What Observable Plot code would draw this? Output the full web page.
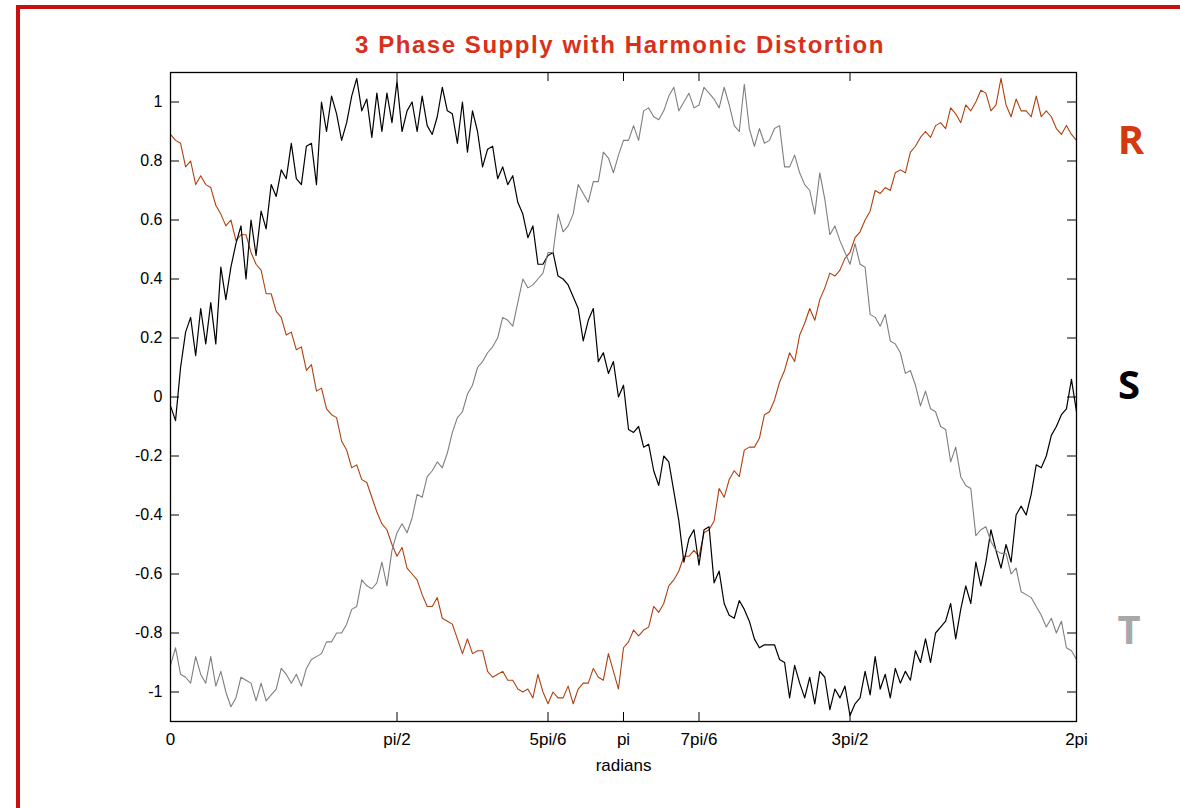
<!DOCTYPE html>
<html>
<head>
<meta charset="utf-8">
<script src="https://cdn.jsdelivr.net/npm/d3@7"></script>
<script src="https://cdn.jsdelivr.net/npm/@observablehq/plot@0.6"></script>
<style>
  html, body { margin: 0; padding: 0; background: #fff; }
  body { width: 1180px; height: 808px; overflow: hidden; position: relative; font-family: "Liberation Sans", Arial, sans-serif; }
  #border { position: absolute; left: 16px; top: 5px; width: 1200px; height: 840px; border-top: 4px solid #c8100f; border-left: 4px solid #c8100f; box-sizing: border-box; }
  #title { position: absolute; top: 30px; left: 0; width: 1240px; text-align: center; color: #d9301c; font-weight: bold; font-size: 24px; line-height: 30px; letter-spacing: 1.55px; }
  #chart { position: absolute; left: 0; top: 0; }
  .phase { position: absolute; font-family: "Open Sans", "DejaVu Sans", sans-serif; font-weight: bold; font-size: 40px; line-height: 1; transform: translate(-50%, -50%); }
</style>
</head>
<body>
<div id="border"></div>
<div id="chart"></div>
<div id="title">3 Phase Supply with Harmonic Distortion</div>
<div class="phase" style="left:1131px; top:139px; color:#d33a10;">R</div>
<div class="phase" style="left:1129px; top:384px; color:#000000;">S</div>
<div class="phase" style="left:1129px; top:629px; color:#a8a8a8;">T</div>
<script>
// sample angles (radians), 2-degree spacing over one period
const angle = d3.range(181).map(i => i * Math.PI / 90);

// Phase R
const phaseR = [
  0.89, 0.87, 0.86, 0.78, 0.80, 0.72, 0.75, 0.72, 0.71, 0.65,
  0.62, 0.58, 0.60, 0.53, 0.55, 0.55, 0.49, 0.45, 0.43, 0.35,
  0.35, 0.29, 0.27, 0.21, 0.22, 0.16, 0.17, 0.09, 0.11, 0.02,
  0.03, -0.04, -0.06, -0.07, -0.15, -0.18, -0.24, -0.23, -0.28, -0.29,
  -0.34, -0.39, -0.43, -0.45, -0.50, -0.54, -0.51, -0.58, -0.60, -0.62,
  -0.67, -0.71, -0.71, -0.68, -0.75, -0.76, -0.77, -0.82, -0.87, -0.82,
  -0.87, -0.86, -0.86, -0.93, -0.95, -0.94, -0.93, -0.96, -0.96, -0.99,
  -1.00, -0.99, -1.02, -0.94, -1.00, -1.04, -1.00, -1.02, -1.02, -0.98,
  -1.04, -0.99, -0.97, -0.97, -0.92, -0.95, -0.96, -0.87, -0.93, -0.99,
  -0.85, -0.83, -0.79, -0.81, -0.79, -0.78, -0.71, -0.73, -0.70, -0.64,
  -0.62, -0.59, -0.54, -0.54, -0.52, -0.54, -0.46, -0.45, -0.42, -0.31,
  -0.34, -0.28, -0.25, -0.27, -0.18, -0.17, -0.17, -0.14, -0.06, -0.05,
  -0.01, 0.05, 0.09, 0.15, 0.12, 0.21, 0.25, 0.30, 0.26, 0.33,
  0.37, 0.42, 0.41, 0.43, 0.47, 0.49, 0.54, 0.56, 0.60, 0.63,
  0.70, 0.69, 0.71, 0.70, 0.76, 0.77, 0.76, 0.83, 0.85, 0.88,
  0.90, 0.88, 0.92, 0.93, 0.91, 0.98, 0.96, 0.93, 0.99, 0.97,
  1.00, 1.04, 1.03, 0.97, 0.99, 1.08, 0.99, 0.95, 1.01, 0.97,
  0.97, 0.95, 1.02, 0.95, 0.97, 0.95, 0.91, 0.89, 0.92, 0.89,
  0.87
];

// Phase S
const phaseS = [
  -0.03, -0.08, 0.10, 0.22, 0.27, 0.14, 0.30, 0.18, 0.32, 0.18,
  0.44, 0.33, 0.44, 0.52, 0.58, 0.40, 0.60, 0.48, 0.63, 0.57,
  0.72, 0.68, 0.77, 0.74, 0.86, 0.74, 0.72, 0.85, 0.86, 0.72,
  1.00, 0.90, 1.02, 0.96, 0.87, 0.93, 1.02, 1.08, 0.97, 1.01,
  0.88, 1.03, 0.90, 1.03, 0.93, 1.07, 0.90, 0.97, 1.00, 0.90,
  1.02, 0.92, 0.89, 0.95, 1.05, 0.97, 0.96, 0.86, 1.00, 0.83,
  0.97, 0.90, 0.78, 0.84, 0.85, 0.74, 0.78, 0.72, 0.75, 0.66,
  0.62, 0.54, 0.58, 0.45, 0.45, 0.48, 0.49, 0.41, 0.40, 0.38,
  0.34, 0.30, 0.19, 0.26, 0.30, 0.12, 0.15, 0.08, 0.12, 0.00,
  0.04, -0.11, -0.12, -0.10, -0.17, -0.16, -0.25, -0.30, -0.20, -0.22,
  -0.32, -0.42, -0.56, -0.48, -0.45, -0.57, -0.45, -0.44, -0.63, -0.59,
  -0.70, -0.74, -0.75, -0.69, -0.72, -0.76, -0.82, -0.85, -0.84, -0.84,
  -0.84, -0.89, -0.90, -1.02, -0.91, -0.97, -1.02, -0.95, -1.04, -0.93,
  -0.95, -1.06, -0.99, -1.02, -0.98, -1.08, -1.04, -1.02, -0.93, -1.01,
  -0.88, -0.99, -0.94, -1.02, -0.92, -0.97, -0.93, -0.96, -0.86, -0.90,
  -0.82, -0.90, -0.80, -0.78, -0.76, -0.70, -0.82, -0.72, -0.64, -0.70,
  -0.56, -0.64, -0.56, -0.45, -0.52, -0.58, -0.50, -0.56, -0.40, -0.37,
  -0.40, -0.33, -0.23, -0.24, -0.20, -0.13, -0.10, -0.06, -0.04, 0.06,
  -0.05
];

// Phase T
const phaseT = [
  -0.91, -0.85, -0.94, -0.95, -0.97, -0.88, -0.94, -0.97, -0.88, -0.98,
  -0.93, -1.00, -1.05, -1.02, -0.95, -0.96, -0.97, -1.03, -0.97, -1.03,
  -1.01, -0.99, -0.92, -0.94, -0.97, -0.94, -0.98, -0.92, -0.89, -0.88,
  -0.87, -0.83, -0.83, -0.80, -0.80, -0.77, -0.72, -0.71, -0.62, -0.64,
  -0.65, -0.63, -0.56, -0.64, -0.52, -0.46, -0.43, -0.46, -0.41, -0.33,
  -0.34, -0.27, -0.25, -0.22, -0.24, -0.19, -0.12, -0.07, -0.05, 0.01,
  0.04, 0.10, 0.12, 0.15, 0.17, 0.20, 0.27, 0.26, 0.24, 0.32,
  0.40, 0.37, 0.38, 0.40, 0.42, 0.49, 0.49, 0.62, 0.56, 0.58,
  0.62, 0.72, 0.69, 0.66, 0.73, 0.73, 0.83, 0.81, 0.76, 0.82,
  0.87, 0.87, 0.92, 0.87, 0.97, 0.98, 0.95, 0.94, 0.97, 1.02,
  1.05, 0.97, 1.00, 1.03, 0.98, 0.99, 1.05, 1.03, 1.01, 0.98,
  1.05, 0.99, 0.92, 0.90, 1.06, 0.91, 0.85, 0.91, 0.86, 0.87,
  0.91, 0.92, 0.78, 0.78, 0.82, 0.76, 0.72, 0.70, 0.62, 0.76,
  0.67, 0.55, 0.58, 0.53, 0.49, 0.45, 0.52, 0.45, 0.44, 0.28,
  0.27, 0.24, 0.28, 0.19, 0.18, 0.15, 0.08, 0.09, 0.04, -0.03,
  0.02, -0.04, -0.05, -0.10, -0.11, -0.22, -0.17, -0.27, -0.30, -0.31,
  -0.47, -0.45, -0.44, -0.49, -0.52, -0.53, -0.53, -0.60, -0.58, -0.66,
  -0.67, -0.68, -0.71, -0.74, -0.78, -0.75, -0.80, -0.76, -0.85, -0.86,
  -0.89
];

const yTicks = [1, 0.8, 0.6, 0.4, 0.2, 0, -0.2, -0.4, -0.6, -0.8, -1];
const xTicks = [0, Math.PI / 2, 5 * Math.PI / 6, Math.PI, 7 * Math.PI / 6, 3 * Math.PI / 2, 2 * Math.PI];
const xTickLabels = ["0", "pi/2", "5pi/6", "pi", "7pi/6", "3pi/2", "2pi"];

const seriesColors = { R: "#b0400f", S: "#000000", T: "#7f7f7f" };

const rows = (name, vals) => vals.map((v, i) => ({ phase: name, x: angle[i], y: v }));
const dataR = rows("R", phaseR);
const dataS = rows("S", phaseS);
const dataT = rows("T", phaseT);

const W = 1180, H = 808, mL = 170, mR = 104, mT = 72, mB = 87;
const frameW = W - mL - mR, frameH = H - mT - mB;
const tickLen = 9;

const chart = Plot.plot({
  width: W,
  height: H,
  marginLeft: mL,
  marginRight: mR,
  marginTop: mT,
  marginBottom: mB,
  style: { fontFamily: "'Liberation Sans', Arial, sans-serif", fontSize: "16px", color: "#000", background: "transparent", overflow: "visible" },
  x: { domain: [0, 2 * Math.PI] },
  y: { domain: [-1.1, 1.1] },
  marks: [
    Plot.line(dataR, { x: "x", y: "y", stroke: seriesColors.R, strokeWidth: 1.1 }),
    Plot.line(dataS, { x: "x", y: "y", stroke: seriesColors.S, strokeWidth: 1.2 }),
    Plot.line(dataT, { x: "x", y: "y", stroke: seriesColors.T, strokeWidth: 1.1 }),
    // inward ticks, MATLAB style
    Plot.tickY(yTicks, { y: d => d, stroke: "#000", strokeWidth: 1, insetRight: frameW - tickLen }),
    Plot.tickY(yTicks, { y: d => d, stroke: "#000", strokeWidth: 1, insetLeft: frameW - tickLen }),
    Plot.tickX(xTicks, { x: d => d, stroke: "#000", strokeWidth: 1, insetTop: frameH - tickLen }),
    Plot.tickX(xTicks, { x: d => d, stroke: "#000", strokeWidth: 1, insetBottom: frameH - tickLen }),
    Plot.frame({ stroke: "#000", strokeWidth: 1.3 }),
    Plot.axisY(yTicks, { anchor: "left", tickSize: 0, tickPadding: 8, tickFormat: d => String(d), label: null, fontSize: 16 }),
    Plot.axisX(xTicks, { anchor: "bottom", tickSize: 0, tickPadding: 11, tickFormat: (d, i) => xTickLabels[i], label: null, fontSize: 17 }),
    Plot.text(["radians"], { frameAnchor: "bottom", dy: 49, text: d => d, fontSize: 17 })
  ]
});
document.getElementById("chart").appendChild(chart);
</script>
</body>
</html>
